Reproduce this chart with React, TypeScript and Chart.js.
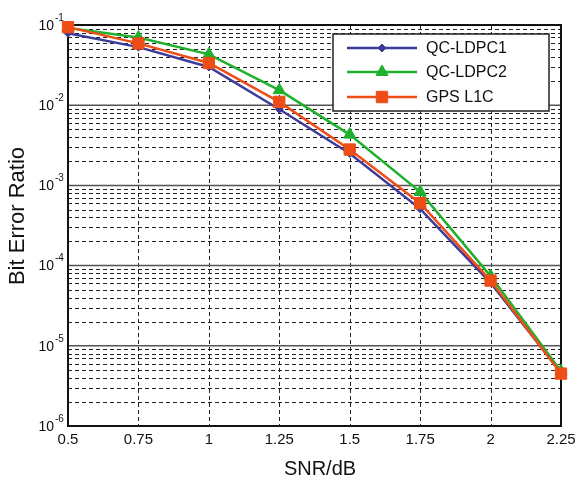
import React, { useEffect, useRef } from 'react';
import { Chart, registerables } from 'chart.js';

Chart.register(...registerables);

// ---- data ----
const snr = [0.5, 0.75, 1, 1.25, 1.5, 1.75, 2, 2.25];
const qcLdpc1 = [0.079, 0.053, 0.03, 0.0089, 0.0025, 0.00051, 6.1e-5, 4.6e-6];
const qcLdpc2 = [0.092, 0.07, 0.043, 0.0154, 0.0043, 0.00083, 7.4e-5, 4.8e-6];
const gpsL1c = [0.094, 0.059, 0.0336, 0.011, 0.0028, 0.0006, 6.5e-5, 4.5e-6];
const seriesLabels = ['QC-LDPC1', 'QC-LDPC2', 'GPS L1C'];
const xTickValues = [0.5, 0.75, 1, 1.25, 1.5, 1.75, 2, 2.25];
const yDecadeExponents = [-1, -2, -3, -4, -5, -6];
const minorMultipliers = [2, 3, 4, 5, 6, 7, 8, 9];
const xTitle = 'SNR/dB';
const yTitle = 'Bit Error Ratio';

const FONT = '"Liberation Sans", Arial, Helvetica, sans-serif';
const BLUE = '#3d3b99';
const GREEN = '#1fb02c';
const ORANGE = '#ee4d17';

function drawMarker(ctx: CanvasRenderingContext2D, style: string, x: number, y: number, color: string) {
  ctx.save();
  ctx.fillStyle = color;
  ctx.strokeStyle = color;
  ctx.lineWidth = 1;
  ctx.setLineDash([]);
  ctx.beginPath();
  if (style === 'rectRot') {
    const r = 4;
    ctx.moveTo(x, y - r);
    ctx.lineTo(x + r, y);
    ctx.lineTo(x, y + r);
    ctx.lineTo(x - r, y);
    ctx.closePath();
  } else if (style === 'triangle') {
    const r = 7;
    ctx.moveTo(x, y - r);
    ctx.lineTo(x + r * 0.866, y + r * 0.5);
    ctx.lineTo(x - r * 0.866, y + r * 0.5);
    ctx.closePath();
  } else {
    const h = 5.7;
    ctx.rect(x - h, y - h, 2 * h, 2 * h);
  }
  ctx.fill();
  ctx.stroke();
  ctx.restore();
}

const customPlugin = {
  id: 'customDecor',
  beforeDatasetsDraw(chart: any) {
    const { ctx, chartArea: a, scales } = chart;
    const xs = scales.x;
    const ys = scales.y;
    ctx.save();
    // vertical dashed grid
    ctx.lineWidth = 1;
    ctx.strokeStyle = '#222';
    ctx.setLineDash([4, 3]);
    xTickValues.forEach((v) => {
      const px = Math.round(xs.getPixelForValue(v)) + 0.5;
      if (px <= a.left + 2 || px >= a.right - 2) return;
      ctx.beginPath();
      ctx.moveTo(px, a.top);
      ctx.lineTo(px, a.bottom);
      ctx.stroke();
    });
    // minor horizontal dashed grid
    yDecadeExponents.forEach((e) => {
      minorMultipliers.forEach((m) => {
        const v = m * Math.pow(10, e);
        if (v >= 0.1 || v <= 1e-6) return;
        const py = Math.round(ys.getPixelForValue(v)) + 0.5;
        ctx.beginPath();
        ctx.moveTo(a.left, py);
        ctx.lineTo(a.right, py);
        ctx.stroke();
      });
    });
    // decade lines
    ctx.setLineDash([]);
    ctx.strokeStyle = '#555';
    ctx.lineWidth = 1.5;
    yDecadeExponents.forEach((e) => {
      const py = ys.getPixelForValue(Math.pow(10, e));
      if (py <= a.top + 2 || py >= a.bottom - 2) return;
      ctx.beginPath();
      ctx.moveTo(a.left, py);
      ctx.lineTo(a.right, py);
      ctx.stroke();
    });
    // frame
    ctx.strokeStyle = '#111';
    ctx.lineWidth = 2;
    ctx.strokeRect(a.left, a.top, a.right - a.left, a.bottom - a.top);
    ctx.restore();
  },
  afterDraw(chart: any) {
    const { ctx, chartArea: a, scales } = chart;
    const ys = scales.y;
    ctx.save();
    ctx.fillStyle = '#111';
    // y decade labels with superscript
    yDecadeExponents.forEach((e) => {
      const py = ys.getPixelForValue(Math.pow(10, e));
      ctx.font = `14px ${FONT}`;
      ctx.textAlign = 'right';
      ctx.textBaseline = 'middle';
      ctx.fillText('10', a.left - 14, py + 1);
      ctx.font = `10px ${FONT}`;
      ctx.textAlign = 'left';
      ctx.fillText(String(e), a.left - 13, py - 7);
    });
    // axis titles
    ctx.font = `20px ${FONT}`;
    ctx.textAlign = 'center';
    ctx.textBaseline = 'middle';
    ctx.fillText(xTitle, 320, 469);
    ctx.save();
    ctx.translate(18, 216);
    ctx.rotate(-Math.PI / 2);
    ctx.font = `22px ${FONT}`;
    ctx.fillText(yTitle, 0, 0);
    ctx.restore();

    // legend
    const bx = 333, by = 34, bw = 216, bh = 77;
    ctx.fillStyle = '#fff';
    ctx.fillRect(bx, by, bw, bh);
    ctx.strokeStyle = '#222';
    ctx.lineWidth = 1.5;
    ctx.strokeRect(bx, by, bw, bh);
    const rows = [48, 72, 97];
    chart.data.datasets.forEach((ds: any, i: number) => {
      const y = rows[i];
      ctx.strokeStyle = ds.borderColor;
      ctx.lineWidth = 2.5;
      ctx.beginPath();
      ctx.moveTo(347, y);
      ctx.lineTo(417, y);
      ctx.stroke();
      drawMarker(ctx, ds.pointStyle, 382, y, ds.borderColor);
      ctx.fillStyle = '#111';
      ctx.font = `16px ${FONT}`;
      ctx.textAlign = 'left';
      ctx.textBaseline = 'middle';
      ctx.fillText(ds.label, 426, y + 1);
    });
    ctx.restore();
  },
};

export default function App() {
  const canvasRef = useRef<HTMLCanvasElement>(null);

  useEffect(() => {
    if (!canvasRef.current) return;
    const mk = (arr: number[]) => snr.map((x, i) => ({ x, y: arr[i] }));
    const chart = new Chart(canvasRef.current, {
      type: 'line',
      data: {
        datasets: [
          {
            label: seriesLabels[0],
            data: mk(qcLdpc1),
            borderColor: BLUE,
            backgroundColor: BLUE,
            borderWidth: 2.5,
            pointStyle: 'rectRot',
            pointRadius: 4,
            pointBorderWidth: 1,
            clip: false,
            order: 2,
          },
          {
            label: seriesLabels[1],
            data: mk(qcLdpc2),
            borderColor: GREEN,
            backgroundColor: GREEN,
            borderWidth: 2.5,
            pointStyle: 'triangle',
            pointRadius: 7,
            pointBorderWidth: 1,
            clip: false,
            order: 1,
          },
          {
            label: seriesLabels[2],
            data: mk(gpsL1c),
            borderColor: ORANGE,
            backgroundColor: ORANGE,
            borderWidth: 2.5,
            pointStyle: 'rect',
            pointRadius: 8,
            pointBorderWidth: 1,
            clip: false,
            order: 0,
          },
        ] as any,
      },
      options: {
        animation: false,
        responsive: false,
        events: [],
        layout: { padding: { left: 0, top: 25, right: 14, bottom: 0 } },
        plugins: { legend: { display: false }, tooltip: { enabled: false } },
        scales: {
          x: {
            type: 'linear',
            min: 0.5,
            max: 2.25,
            grid: { display: false, drawTicks: false, tickLength: 0 },
            border: { display: false },
            afterBuildTicks: (s: any) => {
              s.ticks = xTickValues.map((v) => ({ value: v }));
            },
            afterFit: (s: any) => {
              s.height = 57;
              s.paddingLeft = 0;
              s.paddingRight = 0;
            },
            ticks: {
              autoSkip: false,
              maxRotation: 0,
              padding: 5,
              color: '#111',
              font: { family: FONT, size: 15 },
              callback: (v: any) => String(v),
            },
          },
          y: {
            type: 'logarithmic',
            min: 1e-6,
            max: 1e-1,
            grid: { display: false, drawTicks: false },
            border: { display: false },
            ticks: { display: false },
            afterFit: (s: any) => {
              s.width = 68;
              s.paddingTop = 0;
              s.paddingBottom = 0;
            },
          },
        },
      } as any,
      plugins: [customPlugin],
    });
    return () => chart.destroy();
  }, []);

  return (
    <div style={{ position: 'absolute', left: 0, top: 0, width: 575, height: 483, background: '#fff' }}>
      <canvas ref={canvasRef} width={575} height={483} />
    </div>
  );
}
